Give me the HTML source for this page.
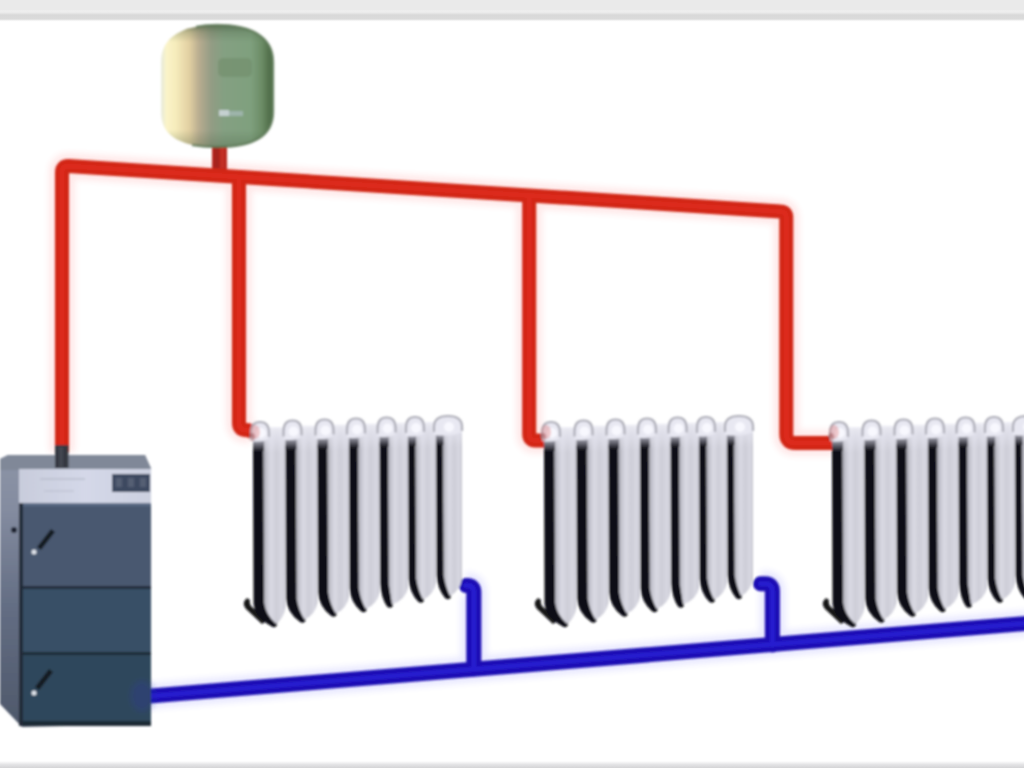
<!DOCTYPE html>
<html><head><meta charset="utf-8"><style>
html,body{margin:0;padding:0;background:#fff;overflow:hidden}
svg{display:block}
</style></head><body>
<svg width="1024" height="768" viewBox="0 0 1024 768">
<defs>
<filter id="soft" x="-5%" y="-5%" width="110%" height="110%"><feGaussianBlur stdDeviation="1"/></filter>
<filter id="halo" x="-10%" y="-10%" width="120%" height="120%"><feGaussianBlur stdDeviation="3"/></filter>
<linearGradient id="topbar" x1="0" y1="0" x2="0" y2="1">
<stop offset="0" stop-color="#eaeaea"/><stop offset="0.432" stop-color="#eaeaea"/><stop offset="0.5" stop-color="#efefef"/>
<stop offset="0.568" stop-color="#ebebeb"/><stop offset="0.682" stop-color="#d9d9d9"/><stop offset="0.864" stop-color="#dbdbdb"/><stop offset="0.955" stop-color="#fcfcfc"/><stop offset="1" stop-color="#ffffff"/>
</linearGradient>
<linearGradient id="botbar" x1="0" y1="0" x2="0" y2="1">
<stop offset="0" stop-color="#ffffff"/><stop offset="0.5" stop-color="#e4e4e6"/><stop offset="1" stop-color="#d4d4d6"/>
</linearGradient>
<linearGradient id="tankG" x1="0" y1="0" x2="1" y2="0">
<stop offset="0" stop-color="#e6eadc"/><stop offset="0.05" stop-color="#fbf4c8"/>
<stop offset="0.13" stop-color="#f6ecbc"/><stop offset="0.25" stop-color="#e2d0a2"/>
<stop offset="0.34" stop-color="#b8ac90"/><stop offset="0.45" stop-color="#929c84"/>
<stop offset="0.56" stop-color="#84a082"/><stop offset="0.8" stop-color="#7fa07e"/>
<stop offset="0.9" stop-color="#6c8c66"/><stop offset="0.97" stop-color="#506e4a"/><stop offset="1" stop-color="#5a7a54"/>
</linearGradient>
<linearGradient id="tankV" x1="0" y1="0" x2="0" y2="1">
<stop offset="0" stop-color="#4a6244" stop-opacity="0.7"/><stop offset="0.06" stop-color="#4a6244" stop-opacity="0.25"/><stop offset="0.14" stop-color="#4a6244" stop-opacity="0"/>
<stop offset="0.86" stop-color="#4a6244" stop-opacity="0"/><stop offset="1" stop-color="#4a6244" stop-opacity="0.35"/>
</linearGradient>
<linearGradient id="finG" x1="0" y1="0" x2="1" y2="0">
<stop offset="0" stop-color="#909099"/><stop offset="0.14" stop-color="#c2c2cc"/><stop offset="0.35" stop-color="#dadae4"/>
<stop offset="0.6" stop-color="#cdcdd7"/><stop offset="0.85" stop-color="#d8d8e2"/><stop offset="1" stop-color="#c4c4ce"/>
</linearGradient>
<linearGradient id="underG" x1="0" y1="0" x2="0" y2="1">
<stop offset="0" stop-color="#c4c4ce"/><stop offset="0.5" stop-color="#9c9ca8"/><stop offset="1" stop-color="#1a1a22"/>
</linearGradient>
<linearGradient id="topL" x1="0" y1="0" x2="0" y2="1">
<stop offset="0" stop-color="#ececf4" stop-opacity="0.9"/><stop offset="0.5" stop-color="#e4e4ee" stop-opacity="0.6"/><stop offset="1" stop-color="#e4e4ee" stop-opacity="0"/>
</linearGradient>
<linearGradient id="boilFront" x1="0" y1="0" x2="1" y2="0">
<stop offset="0" stop-color="#3f4c5c"/><stop offset="1" stop-color="#3d4959"/>
</linearGradient>
<linearGradient id="boilSide" x1="0" y1="0" x2="0" y2="1">
<stop offset="0" stop-color="#8c94a6"/><stop offset="0.2" stop-color="#848ca0"/><stop offset="0.55" stop-color="#646e84"/><stop offset="1" stop-color="#4e586a"/>
</linearGradient>
<linearGradient id="boilTop" x1="0" y1="0" x2="1" y2="0">
<stop offset="0" stop-color="#c8ccdc"/><stop offset="0.5" stop-color="#d4d8e8"/><stop offset="1" stop-color="#ccd0e0"/>
</linearGradient>
</defs>
<rect width="1024" height="768" fill="#fff"/>
<rect x="0" y="0" width="1024" height="22" fill="url(#topbar)"/>
<rect x="0" y="761" width="1024" height="7" fill="url(#botbar)"/>

<g filter="url(#halo)" opacity="0.10" fill="none" stroke-width="26">
<path d="M62,452 L62,172.1 Q62,166.1 68,166.1 L780.3,211.4 Q786.3,211.4 786.3,217.4 L786.3,434 Q786.3,443 795.3,443 L834,443" stroke="#ff3030"/><path d="M239,177.2 L239,423 Q239,430 246,430 L252,431" stroke="#ff3030"/><path d="M529.2,195.3 L529.2,434 Q529.2,440.5 535.2,440.5 L548,440.5" stroke="#ff3030"/>
<path d="M146,696.4 L1030,623.1" stroke="#3030ff"/><path d="M466,585.5 L467,585.5 Q473.8,585.5 473.8,592 L473.8,669" stroke="#3030ff"/><path d="M760.5,583.8 L765,583.8 Q772.4,583.8 772.4,591 L772.4,645" stroke="#3030ff"/>
</g>
<g filter="url(#soft)">

<path d="M212,138 L227,138 L227,170 L212,170 Z" fill="#b8281e"/>
<rect x="214" y="140" width="5" height="28" fill="#8e2018" opacity="0.45"/>
<rect x="221" y="140" width="3" height="28" fill="#d03a2c" opacity="0.5"/>
<path d="M161,62 C161,36 184,25 217,25 C250,25 273,36 273,62 L273,112 C273,137 252,147 217,147 C182,147 161,137 161,112 Z" fill="url(#tankG)"/>
<path d="M161,62 C161,36 184,25 217,25 C250,25 273,36 273,62 L273,112 C273,137 252,147 217,147 C182,147 161,137 161,112 Z" fill="url(#tankV)"/>
<path d="M196,27 C205,25 210,25 217,25 C250,25 273,36 273,62 L273,112 C273,137 252,147 217,147 C205,147 198,146 192,145" fill="none" stroke="#587452" stroke-width="2.5" opacity="0.75"/>
<rect x="218" y="58" width="34" height="19" rx="5" fill="#6f8a68" opacity="0.55"/>
<rect x="219" y="110" width="10" height="6" fill="#d4dce4" opacity="0.8"/>
<rect x="229" y="111" width="14" height="5" fill="#b4c4cc" opacity="0.55"/>

<g fill="none" stroke-linejoin="round">
<g stroke="#d22616" stroke-width="14">
<path d="M62,452 L62,172.1 Q62,166.1 68,166.1 L780.3,211.4 Q786.3,211.4 786.3,217.4 L786.3,434 Q786.3,443 795.3,443 L834,443"/><path d="M239,177.2 L239,423 Q239,430 246,430 L252,431"/><path d="M529.2,195.3 L529.2,434 Q529.2,440.5 535.2,440.5 L548,440.5"/>
</g>
<g stroke="#e02c1e" stroke-width="5" opacity="0.8">
<path d="M62,452 L62,172.1 Q62,166.1 68,166.1 L780.3,211.4 Q786.3,211.4 786.3,217.4 L786.3,434 Q786.3,443 795.3,443 L834,443"/><path d="M239,177.2 L239,423 Q239,430 246,430 L252,431"/><path d="M529.2,195.3 L529.2,434 Q529.2,440.5 535.2,440.5 L548,440.5"/>
</g>
</g>

<g fill="none" stroke-linejoin="round" stroke-linecap="round">
<g stroke="#1a10b4" stroke-width="15">
<path d="M146,696.4 L1030,623.1"/><path d="M466,585.5 L467,585.5 Q473.8,585.5 473.8,592 L473.8,669"/><path d="M760.5,583.8 L765,583.8 Q772.4,583.8 772.4,591 L772.4,645"/>
</g>
<g stroke="#2a1ed6" stroke-width="5" opacity="0.8">
<path d="M146,696.4 L1030,623.1"/><path d="M466,585.5 L467,585.5 Q473.8,585.5 473.8,592 L473.8,669"/><path d="M760.5,583.8 L765,583.8 Q772.4,583.8 772.4,591 L772.4,645"/>
</g>
</g>
<g transform="translate(0,0)">
<path d="M247,598 Q241,603 246,609 L262,624 L268,620 L252,607 Q249,604 250,600 Z" fill="#141418"/>
<path d="M253,447 L253.5,603 Q254.5,617 271,626 Q275,629 277,625 L278,617 L266,605 L266,447 Z" fill="#0e0e16"/>
<path d="M263,429 L285.5,429 L285.5,607 Q283.5,619 276,624 Q266,615 264,603 Z" fill="url(#finG)"/>
<rect x="263" y="427" width="22.5" height="26" fill="url(#topL)"/>
<path d="M253,431 L264,431 L264,451 L253,451 Z" fill="url(#underG)"/>
<path d="M251,441 L251,433 Q251,422 260.0,422 Q269,422 269,433 L269,438 Q264.0,443 251,441 Z" fill="#e8e8f2"/>
<path d="M251,438 L251,433 Q251,422 260.0,422 Q269,422 269,433 L269,437" fill="none" stroke="#acacb6" stroke-width="2.2"/>
<ellipse cx="261.0" cy="433" rx="5" ry="5" fill="#f8f8fe"/>
<path d="M285.5,445.5 L286.0,598.5 Q287.0,612.5 299.5,621.5 Q303.5,624.5 305.5,620.5 L306.5,612.5 L298.5,600.5 L298.5,445.5 Z" fill="#0e0e16"/>
<path d="M295.5,427.5 L317.5,427.5 L317.5,602.5 Q315.5,614.5 304.5,619.5 Q298.5,610.5 296.5,598.5 Z" fill="url(#finG)"/>
<rect x="295.5" y="425.5" width="22.0" height="26" fill="url(#topL)"/>
<path d="M285.5,429.5 L296.5,429.5 L296.5,449.5 L285.5,449.5 Z" fill="url(#underG)"/>
<path d="M283.5,439.5 L283.5,431.5 Q283.5,420.5 292.5,420.5 Q301.5,420.5 301.5,431.5 L301.5,436.5 Q296.5,441.5 283.5,439.5 Z" fill="#e8e8f2"/>
<path d="M283.5,436.5 L283.5,431.5 Q283.5,420.5 292.5,420.5 Q301.5,420.5 301.5,431.5 L301.5,435.5" fill="none" stroke="#acacb6" stroke-width="2.2"/>
<ellipse cx="293.5" cy="431.5" rx="5" ry="5" fill="#f8f8fe"/>
<path d="M317.5,444.5 L318.0,592.5 Q319.0,606.5 330.7,615.5 Q334.7,618.5 336.7,614.5 L337.7,606.5 L330.0,594.5 L330.0,444.5 Z" fill="#0e0e16"/>
<path d="M327.0,426.5 L349.0,426.5 L349.0,596.5 Q347.0,608.5 335.7,613.5 Q330.0,604.5 328.0,592.5 Z" fill="url(#finG)"/>
<rect x="327.0" y="424.5" width="22.0" height="26" fill="url(#topL)"/>
<path d="M317.5,428.5 L328.0,428.5 L328.0,448.5 L317.5,448.5 Z" fill="url(#underG)"/>
<path d="M315.5,438.5 L315.5,430.5 Q315.5,419.5 324.5,419.5 Q333.5,419.5 333.5,430.5 L333.5,435.5 Q328.5,440.5 315.5,438.5 Z" fill="#e8e8f2"/>
<path d="M315.5,435.5 L315.5,430.5 Q315.5,419.5 324.5,419.5 Q333.5,419.5 333.5,430.5 L333.5,434.5" fill="none" stroke="#acacb6" stroke-width="2.2"/>
<ellipse cx="325.5" cy="430.5" rx="5" ry="5" fill="#f8f8fe"/>
<path d="M349,443.5 L349.5,588 Q350.5,602 360.7,611 Q364.7,614 366.7,610 L367.7,602 L360.5,590 L360.5,443.5 Z" fill="#0e0e16"/>
<path d="M357.5,425.5 L379.6,425.5 L379.6,592 Q377.6,604 365.7,609 Q360.5,600 358.5,588 Z" fill="url(#finG)"/>
<rect x="357.5" y="423.5" width="22.100000000000023" height="26" fill="url(#topL)"/>
<path d="M349,427.5 L358.5,427.5 L358.5,447.5 L349,447.5 Z" fill="url(#underG)"/>
<path d="M347,437.5 L347,429.5 Q347,418.5 356.0,418.5 Q365,418.5 365,429.5 L365,434.5 Q360.0,439.5 347,437.5 Z" fill="#e8e8f2"/>
<path d="M347,434.5 L347,429.5 Q347,418.5 356.0,418.5 Q365,418.5 365,429.5 L365,433.5" fill="none" stroke="#acacb6" stroke-width="2.2"/>
<ellipse cx="357.0" cy="429.5" rx="5" ry="5" fill="#f8f8fe"/>
<path d="M379.6,442.5 L380.1,583.5 Q381.1,597.5 387,606.5 Q391,609.5 393,605.5 L394,597.5 L390.6,585.5 L390.6,442.5 Z" fill="#0e0e16"/>
<path d="M387.6,424.5 L408.0,424.5 L408.0,587.5 Q406.0,599.5 392,604.5 Q390.6,595.5 388.6,583.5 Z" fill="url(#finG)"/>
<rect x="387.6" y="422.5" width="20.399999999999977" height="26" fill="url(#topL)"/>
<path d="M379.6,426.5 L388.6,426.5 L388.6,446.5 L379.6,446.5 Z" fill="url(#underG)"/>
<path d="M377.6,436.5 L377.6,428.5 Q377.6,417.5 386.6,417.5 Q395.6,417.5 395.6,428.5 L395.6,433.5 Q390.6,438.5 377.6,436.5 Z" fill="#e8e8f2"/>
<path d="M377.6,433.5 L377.6,428.5 Q377.6,417.5 386.6,417.5 Q395.6,417.5 395.6,428.5 L395.6,432.5" fill="none" stroke="#acacb6" stroke-width="2.2"/>
<ellipse cx="387.6" cy="428.5" rx="5" ry="5" fill="#f8f8fe"/>
<path d="M408,442 L408.5,578.5 Q409.5,592.5 418,601.5 Q422,604.5 424,600.5 L425,592.5 L418,580.5 L418,442 Z" fill="#0e0e16"/>
<path d="M415,424 L436,424 L436,582.5 Q434,594.5 423,599.5 Q418,590.5 416,578.5 Z" fill="url(#finG)"/>
<rect x="415" y="422" width="21" height="26" fill="url(#topL)"/>
<path d="M408,426 L416,426 L416,446 L408,446 Z" fill="url(#underG)"/>
<path d="M406,436 L406,428 Q406,417 415.0,417 Q424,417 424,428 L424,433 Q419.0,438 406,436 Z" fill="#e8e8f2"/>
<path d="M406,433 L406,428 Q406,417 415.0,417 Q424,417 424,428 L424,432" fill="none" stroke="#acacb6" stroke-width="2.2"/>
<ellipse cx="416.0" cy="428" rx="5" ry="5" fill="#f8f8fe"/>
<path d="M436,441 L436.5,575 Q437.5,589 445,598 Q449,601 451,597 L452,589 L445.5,577 L445.5,441 Z" fill="#0e0e16"/>
<path d="M442.5,423 L462,423 L462,579 Q460,591 450,596 Q445.5,587 443.5,575 Z" fill="url(#finG)"/>
<rect x="442.5" y="421" width="19.5" height="26" fill="url(#topL)"/>
<path d="M436,425 L443.5,425 L443.5,445 L436,445 Z" fill="url(#underG)"/>
<path d="M434,435 L434,427 Q434,416 448.0,416 Q462,416 462,427 L462,432 Q452.0,437 434,435 Z" fill="#e8e8f2"/>
<path d="M434,432 L434,427 Q434,416 448.0,416 Q462,416 462,427 L462,431" fill="none" stroke="#acacb6" stroke-width="2.2"/>
<ellipse cx="449.0" cy="427" rx="5" ry="5" fill="#f8f8fe"/>
<ellipse cx="255" cy="432" rx="5" ry="7" fill="#e07070" opacity="0.35"/>
<ellipse cx="252" cy="437" rx="3" ry="4" fill="#802020" opacity="0.35"/>
</g>
<g transform="translate(291,0)">
<path d="M247,598 Q241,603 246,609 L262,624 L268,620 L252,607 Q249,604 250,600 Z" fill="#141418"/>
<path d="M253,447 L253.5,603 Q254.5,617 271,626 Q275,629 277,625 L278,617 L266,605 L266,447 Z" fill="#0e0e16"/>
<path d="M263,429 L285.5,429 L285.5,607 Q283.5,619 276,624 Q266,615 264,603 Z" fill="url(#finG)"/>
<rect x="263" y="427" width="22.5" height="26" fill="url(#topL)"/>
<path d="M253,431 L264,431 L264,451 L253,451 Z" fill="url(#underG)"/>
<path d="M251,441 L251,433 Q251,422 260.0,422 Q269,422 269,433 L269,438 Q264.0,443 251,441 Z" fill="#e8e8f2"/>
<path d="M251,438 L251,433 Q251,422 260.0,422 Q269,422 269,433 L269,437" fill="none" stroke="#acacb6" stroke-width="2.2"/>
<ellipse cx="261.0" cy="433" rx="5" ry="5" fill="#f8f8fe"/>
<path d="M285.5,445.5 L286.0,598.5 Q287.0,612.5 299.5,621.5 Q303.5,624.5 305.5,620.5 L306.5,612.5 L298.5,600.5 L298.5,445.5 Z" fill="#0e0e16"/>
<path d="M295.5,427.5 L317.5,427.5 L317.5,602.5 Q315.5,614.5 304.5,619.5 Q298.5,610.5 296.5,598.5 Z" fill="url(#finG)"/>
<rect x="295.5" y="425.5" width="22.0" height="26" fill="url(#topL)"/>
<path d="M285.5,429.5 L296.5,429.5 L296.5,449.5 L285.5,449.5 Z" fill="url(#underG)"/>
<path d="M283.5,439.5 L283.5,431.5 Q283.5,420.5 292.5,420.5 Q301.5,420.5 301.5,431.5 L301.5,436.5 Q296.5,441.5 283.5,439.5 Z" fill="#e8e8f2"/>
<path d="M283.5,436.5 L283.5,431.5 Q283.5,420.5 292.5,420.5 Q301.5,420.5 301.5,431.5 L301.5,435.5" fill="none" stroke="#acacb6" stroke-width="2.2"/>
<ellipse cx="293.5" cy="431.5" rx="5" ry="5" fill="#f8f8fe"/>
<path d="M317.5,444.5 L318.0,592.5 Q319.0,606.5 330.7,615.5 Q334.7,618.5 336.7,614.5 L337.7,606.5 L330.0,594.5 L330.0,444.5 Z" fill="#0e0e16"/>
<path d="M327.0,426.5 L349.0,426.5 L349.0,596.5 Q347.0,608.5 335.7,613.5 Q330.0,604.5 328.0,592.5 Z" fill="url(#finG)"/>
<rect x="327.0" y="424.5" width="22.0" height="26" fill="url(#topL)"/>
<path d="M317.5,428.5 L328.0,428.5 L328.0,448.5 L317.5,448.5 Z" fill="url(#underG)"/>
<path d="M315.5,438.5 L315.5,430.5 Q315.5,419.5 324.5,419.5 Q333.5,419.5 333.5,430.5 L333.5,435.5 Q328.5,440.5 315.5,438.5 Z" fill="#e8e8f2"/>
<path d="M315.5,435.5 L315.5,430.5 Q315.5,419.5 324.5,419.5 Q333.5,419.5 333.5,430.5 L333.5,434.5" fill="none" stroke="#acacb6" stroke-width="2.2"/>
<ellipse cx="325.5" cy="430.5" rx="5" ry="5" fill="#f8f8fe"/>
<path d="M349,443.5 L349.5,588 Q350.5,602 360.7,611 Q364.7,614 366.7,610 L367.7,602 L360.5,590 L360.5,443.5 Z" fill="#0e0e16"/>
<path d="M357.5,425.5 L379.6,425.5 L379.6,592 Q377.6,604 365.7,609 Q360.5,600 358.5,588 Z" fill="url(#finG)"/>
<rect x="357.5" y="423.5" width="22.100000000000023" height="26" fill="url(#topL)"/>
<path d="M349,427.5 L358.5,427.5 L358.5,447.5 L349,447.5 Z" fill="url(#underG)"/>
<path d="M347,437.5 L347,429.5 Q347,418.5 356.0,418.5 Q365,418.5 365,429.5 L365,434.5 Q360.0,439.5 347,437.5 Z" fill="#e8e8f2"/>
<path d="M347,434.5 L347,429.5 Q347,418.5 356.0,418.5 Q365,418.5 365,429.5 L365,433.5" fill="none" stroke="#acacb6" stroke-width="2.2"/>
<ellipse cx="357.0" cy="429.5" rx="5" ry="5" fill="#f8f8fe"/>
<path d="M379.6,442.5 L380.1,583.5 Q381.1,597.5 387,606.5 Q391,609.5 393,605.5 L394,597.5 L390.6,585.5 L390.6,442.5 Z" fill="#0e0e16"/>
<path d="M387.6,424.5 L408.0,424.5 L408.0,587.5 Q406.0,599.5 392,604.5 Q390.6,595.5 388.6,583.5 Z" fill="url(#finG)"/>
<rect x="387.6" y="422.5" width="20.399999999999977" height="26" fill="url(#topL)"/>
<path d="M379.6,426.5 L388.6,426.5 L388.6,446.5 L379.6,446.5 Z" fill="url(#underG)"/>
<path d="M377.6,436.5 L377.6,428.5 Q377.6,417.5 386.6,417.5 Q395.6,417.5 395.6,428.5 L395.6,433.5 Q390.6,438.5 377.6,436.5 Z" fill="#e8e8f2"/>
<path d="M377.6,433.5 L377.6,428.5 Q377.6,417.5 386.6,417.5 Q395.6,417.5 395.6,428.5 L395.6,432.5" fill="none" stroke="#acacb6" stroke-width="2.2"/>
<ellipse cx="387.6" cy="428.5" rx="5" ry="5" fill="#f8f8fe"/>
<path d="M408,442 L408.5,578.5 Q409.5,592.5 418,601.5 Q422,604.5 424,600.5 L425,592.5 L418,580.5 L418,442 Z" fill="#0e0e16"/>
<path d="M415,424 L436,424 L436,582.5 Q434,594.5 423,599.5 Q418,590.5 416,578.5 Z" fill="url(#finG)"/>
<rect x="415" y="422" width="21" height="26" fill="url(#topL)"/>
<path d="M408,426 L416,426 L416,446 L408,446 Z" fill="url(#underG)"/>
<path d="M406,436 L406,428 Q406,417 415.0,417 Q424,417 424,428 L424,433 Q419.0,438 406,436 Z" fill="#e8e8f2"/>
<path d="M406,433 L406,428 Q406,417 415.0,417 Q424,417 424,428 L424,432" fill="none" stroke="#acacb6" stroke-width="2.2"/>
<ellipse cx="416.0" cy="428" rx="5" ry="5" fill="#f8f8fe"/>
<path d="M436,441 L436.5,575 Q437.5,589 445,598 Q449,601 451,597 L452,589 L445.5,577 L445.5,441 Z" fill="#0e0e16"/>
<path d="M442.5,423 L462,423 L462,579 Q460,591 450,596 Q445.5,587 443.5,575 Z" fill="url(#finG)"/>
<rect x="442.5" y="421" width="19.5" height="26" fill="url(#topL)"/>
<path d="M436,425 L443.5,425 L443.5,445 L436,445 Z" fill="url(#underG)"/>
<path d="M434,435 L434,427 Q434,416 448.0,416 Q462,416 462,427 L462,432 Q452.0,437 434,435 Z" fill="#e8e8f2"/>
<path d="M434,432 L434,427 Q434,416 448.0,416 Q462,416 462,427 L462,431" fill="none" stroke="#acacb6" stroke-width="2.2"/>
<ellipse cx="449.0" cy="427" rx="5" ry="5" fill="#f8f8fe"/>
<ellipse cx="255" cy="432" rx="5" ry="7" fill="#e07070" opacity="0.35"/>
<ellipse cx="252" cy="437" rx="3" ry="4" fill="#802020" opacity="0.35"/>
</g>
<g transform="translate(579,0)">
<path d="M247,598 Q241,603 246,609 L262,624 L268,620 L252,607 Q249,604 250,600 Z" fill="#141418"/>
<path d="M253,447 L253.5,603 Q254.5,617 271,626 Q275,629 277,625 L278,617 L266,605 L266,447 Z" fill="#0e0e16"/>
<path d="M263,429 L285.5,429 L285.5,607 Q283.5,619 276,624 Q266,615 264,603 Z" fill="url(#finG)"/>
<rect x="263" y="427" width="22.5" height="26" fill="url(#topL)"/>
<path d="M253,431 L264,431 L264,451 L253,451 Z" fill="url(#underG)"/>
<path d="M251,441 L251,433 Q251,422 260.0,422 Q269,422 269,433 L269,438 Q264.0,443 251,441 Z" fill="#e8e8f2"/>
<path d="M251,438 L251,433 Q251,422 260.0,422 Q269,422 269,433 L269,437" fill="none" stroke="#acacb6" stroke-width="2.2"/>
<ellipse cx="261.0" cy="433" rx="5" ry="5" fill="#f8f8fe"/>
<path d="M285.5,445.5 L286.0,598.5 Q287.0,612.5 299.5,621.5 Q303.5,624.5 305.5,620.5 L306.5,612.5 L298.5,600.5 L298.5,445.5 Z" fill="#0e0e16"/>
<path d="M295.5,427.5 L317.5,427.5 L317.5,602.5 Q315.5,614.5 304.5,619.5 Q298.5,610.5 296.5,598.5 Z" fill="url(#finG)"/>
<rect x="295.5" y="425.5" width="22.0" height="26" fill="url(#topL)"/>
<path d="M285.5,429.5 L296.5,429.5 L296.5,449.5 L285.5,449.5 Z" fill="url(#underG)"/>
<path d="M283.5,439.5 L283.5,431.5 Q283.5,420.5 292.5,420.5 Q301.5,420.5 301.5,431.5 L301.5,436.5 Q296.5,441.5 283.5,439.5 Z" fill="#e8e8f2"/>
<path d="M283.5,436.5 L283.5,431.5 Q283.5,420.5 292.5,420.5 Q301.5,420.5 301.5,431.5 L301.5,435.5" fill="none" stroke="#acacb6" stroke-width="2.2"/>
<ellipse cx="293.5" cy="431.5" rx="5" ry="5" fill="#f8f8fe"/>
<path d="M317.5,444.5 L318.0,592.5 Q319.0,606.5 330.7,615.5 Q334.7,618.5 336.7,614.5 L337.7,606.5 L330.0,594.5 L330.0,444.5 Z" fill="#0e0e16"/>
<path d="M327.0,426.5 L349.0,426.5 L349.0,596.5 Q347.0,608.5 335.7,613.5 Q330.0,604.5 328.0,592.5 Z" fill="url(#finG)"/>
<rect x="327.0" y="424.5" width="22.0" height="26" fill="url(#topL)"/>
<path d="M317.5,428.5 L328.0,428.5 L328.0,448.5 L317.5,448.5 Z" fill="url(#underG)"/>
<path d="M315.5,438.5 L315.5,430.5 Q315.5,419.5 324.5,419.5 Q333.5,419.5 333.5,430.5 L333.5,435.5 Q328.5,440.5 315.5,438.5 Z" fill="#e8e8f2"/>
<path d="M315.5,435.5 L315.5,430.5 Q315.5,419.5 324.5,419.5 Q333.5,419.5 333.5,430.5 L333.5,434.5" fill="none" stroke="#acacb6" stroke-width="2.2"/>
<ellipse cx="325.5" cy="430.5" rx="5" ry="5" fill="#f8f8fe"/>
<path d="M349,443.5 L349.5,588 Q350.5,602 360.7,611 Q364.7,614 366.7,610 L367.7,602 L360.5,590 L360.5,443.5 Z" fill="#0e0e16"/>
<path d="M357.5,425.5 L379.6,425.5 L379.6,592 Q377.6,604 365.7,609 Q360.5,600 358.5,588 Z" fill="url(#finG)"/>
<rect x="357.5" y="423.5" width="22.100000000000023" height="26" fill="url(#topL)"/>
<path d="M349,427.5 L358.5,427.5 L358.5,447.5 L349,447.5 Z" fill="url(#underG)"/>
<path d="M347,437.5 L347,429.5 Q347,418.5 356.0,418.5 Q365,418.5 365,429.5 L365,434.5 Q360.0,439.5 347,437.5 Z" fill="#e8e8f2"/>
<path d="M347,434.5 L347,429.5 Q347,418.5 356.0,418.5 Q365,418.5 365,429.5 L365,433.5" fill="none" stroke="#acacb6" stroke-width="2.2"/>
<ellipse cx="357.0" cy="429.5" rx="5" ry="5" fill="#f8f8fe"/>
<path d="M379.6,442.5 L380.1,583.5 Q381.1,597.5 387,606.5 Q391,609.5 393,605.5 L394,597.5 L390.6,585.5 L390.6,442.5 Z" fill="#0e0e16"/>
<path d="M387.6,424.5 L408.0,424.5 L408.0,587.5 Q406.0,599.5 392,604.5 Q390.6,595.5 388.6,583.5 Z" fill="url(#finG)"/>
<rect x="387.6" y="422.5" width="20.399999999999977" height="26" fill="url(#topL)"/>
<path d="M379.6,426.5 L388.6,426.5 L388.6,446.5 L379.6,446.5 Z" fill="url(#underG)"/>
<path d="M377.6,436.5 L377.6,428.5 Q377.6,417.5 386.6,417.5 Q395.6,417.5 395.6,428.5 L395.6,433.5 Q390.6,438.5 377.6,436.5 Z" fill="#e8e8f2"/>
<path d="M377.6,433.5 L377.6,428.5 Q377.6,417.5 386.6,417.5 Q395.6,417.5 395.6,428.5 L395.6,432.5" fill="none" stroke="#acacb6" stroke-width="2.2"/>
<ellipse cx="387.6" cy="428.5" rx="5" ry="5" fill="#f8f8fe"/>
<path d="M408,442 L408.5,578.5 Q409.5,592.5 418,601.5 Q422,604.5 424,600.5 L425,592.5 L418,580.5 L418,442 Z" fill="#0e0e16"/>
<path d="M415,424 L436,424 L436,582.5 Q434,594.5 423,599.5 Q418,590.5 416,578.5 Z" fill="url(#finG)"/>
<rect x="415" y="422" width="21" height="26" fill="url(#topL)"/>
<path d="M408,426 L416,426 L416,446 L408,446 Z" fill="url(#underG)"/>
<path d="M406,436 L406,428 Q406,417 415.0,417 Q424,417 424,428 L424,433 Q419.0,438 406,436 Z" fill="#e8e8f2"/>
<path d="M406,433 L406,428 Q406,417 415.0,417 Q424,417 424,428 L424,432" fill="none" stroke="#acacb6" stroke-width="2.2"/>
<ellipse cx="416.0" cy="428" rx="5" ry="5" fill="#f8f8fe"/>
<path d="M436,441 L436.5,575 Q437.5,589 445,598 Q449,601 451,597 L452,589 L445.5,577 L445.5,441 Z" fill="#0e0e16"/>
<path d="M442.5,423 L462,423 L462,579 Q460,591 450,596 Q445.5,587 443.5,575 Z" fill="url(#finG)"/>
<rect x="442.5" y="421" width="19.5" height="26" fill="url(#topL)"/>
<path d="M436,425 L443.5,425 L443.5,445 L436,445 Z" fill="url(#underG)"/>
<path d="M434,435 L434,427 Q434,416 448.0,416 Q462,416 462,427 L462,432 Q452.0,437 434,435 Z" fill="#e8e8f2"/>
<path d="M434,432 L434,427 Q434,416 448.0,416 Q462,416 462,427 L462,431" fill="none" stroke="#acacb6" stroke-width="2.2"/>
<ellipse cx="449.0" cy="427" rx="5" ry="5" fill="#f8f8fe"/>
<ellipse cx="255" cy="432" rx="5" ry="7" fill="#e07070" opacity="0.35"/>
<ellipse cx="252" cy="437" rx="3" ry="4" fill="#802020" opacity="0.35"/>
</g>
<g>
<path d="M0,459 L8,455 L145,455 L151,468 L151,724 L22,727 L0,704 Z" fill="url(#boilSide)"/>
<path d="M0,459 L8,455 L145,455 L151,469 L19,470 L0,470 Z" fill="#808898"/>
<rect x="19" y="469" width="132" height="34" fill="url(#boilTop)"/>
<rect x="40" y="478" width="45" height="2" fill="#b8bccc" opacity="0.7"/>
<rect x="44" y="490" width="30" height="2" fill="#bcc0d0" opacity="0.6"/>
<rect x="112" y="474" width="38" height="18" fill="#3e4860"/>
<rect x="116" y="478" width="6" height="9" fill="#5a6478" opacity="0.8"/>
<rect x="128" y="478" width="6" height="9" fill="#5a6478" opacity="0.8"/>
<rect x="140" y="478" width="6" height="9" fill="#5a6478" opacity="0.8"/>
<rect x="22" y="503" width="129" height="84" fill="#485870"/>
<rect x="22" y="503" width="129" height="3" fill="#5c6c86"/>
<rect x="22" y="589" width="129" height="64" fill="#385066"/>
<rect x="22" y="655" width="129" height="70" fill="#2f475b"/>
<rect x="22" y="586" width="129" height="3" fill="#232c3a"/>
<rect x="22" y="652" width="129" height="3" fill="#1f2a36"/>
<rect x="22" y="721" width="129" height="5" fill="#1e2a36"/>
<rect x="19" y="503" width="4" height="223" fill="#222a38"/>
<path d="M37,547 L51,529 L55,532 L41,550 Z" fill="#161a22"/>
<circle cx="34" cy="552" r="2.5" fill="#dfe3ea"/>
<path d="M35,687 L49,669 L53,672 L39,690 Z" fill="#161a22"/>
<circle cx="34" cy="693" r="2.5" fill="#dfe3ea"/>
<circle cx="14" cy="530" r="3" fill="#1e2430"/>
<rect x="55" y="445" width="13.5" height="23" fill="#343840"/>
<rect x="59" y="447" width="4" height="20" fill="#4a4e58" opacity="0.7"/>
<ellipse cx="142" cy="696" rx="12" ry="16" fill="#2a3aa0" opacity="0.3" filter="url(#halo)"/>
</g>
</g>
</svg></body></html>
